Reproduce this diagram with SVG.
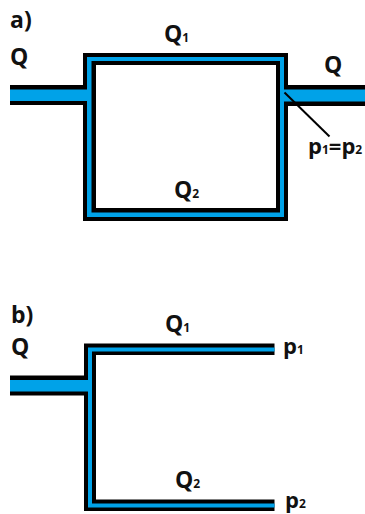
<svg xmlns="http://www.w3.org/2000/svg" width="365" height="514" viewBox="0 0 365 514">
<style>
.k{fill:#000}
.b{fill:#00a2e8}
text{font-family:"Open Sans","Liberation Sans",sans-serif;font-weight:700;font-size:23px;fill:#111}
.s{font-size:12px}
.p{font-size:22px}
</style>
<rect width="365" height="514" fill="#fff"/>
<g id="connectors">
<g id="network-a">
<path class="k" fill-rule="evenodd" d="M83 53H288V85H365V106H288V221H83V105H10V85H83ZM96 65V208H276V65Z"/>
<path class="b" fill-rule="evenodd" d="M87 57H284V89.500H365V101.500H284V217H87V101H10V89.500H87ZM91.500 61V212.500H280V61Z"/>
<line id="leader-a" x1="284.500" y1="92.500" x2="329.500" y2="136.500" stroke="#000" stroke-width="2"/>
</g>
<g id="network-b">
<path class="k" d="M84 343.500H274.500V355H96V499.500H274.500V511H84V395.500H10V375.500H84Z"/>
<path class="b" d="M88 347.500H274.500V351.500H92V503.500H274.500V507.500H88V391.500H10V380H88Z"/>
</g>
</g>
<g id="label-a"><text x="10" y="28">a)</text></g>
<g id="label-a-q-in"><text x="10" y="65">Q</text></g>
<g id="label-a-q1"><text x="164" y="42">Q<tspan class="s">1</tspan></text></g>
<g id="label-a-q-out"><text x="324" y="73">Q</text></g>
<g id="label-a-pressure"><text class="p" x="308" y="154">p<tspan class="s">1</tspan>=p<tspan class="s">2</tspan></text></g>
<g id="label-a-q2"><text x="174" y="198">Q<tspan class="s">2</tspan></text></g>
<g id="label-b"><text x="11" y="323">b)</text></g>
<g id="label-b-q-in"><text x="11" y="355">Q</text></g>
<g id="label-b-q1"><text x="165" y="332">Q<tspan class="s">1</tspan></text></g>
<g id="label-b-p1"><text class="p" x="283" y="354">p<tspan class="s">1</tspan></text></g>
<g id="label-b-q2"><text x="175" y="488">Q<tspan class="s">2</tspan></text></g>
<g id="label-b-p2"><text class="p" x="285" y="508">p<tspan class="s">2</tspan></text></g>
</svg>
